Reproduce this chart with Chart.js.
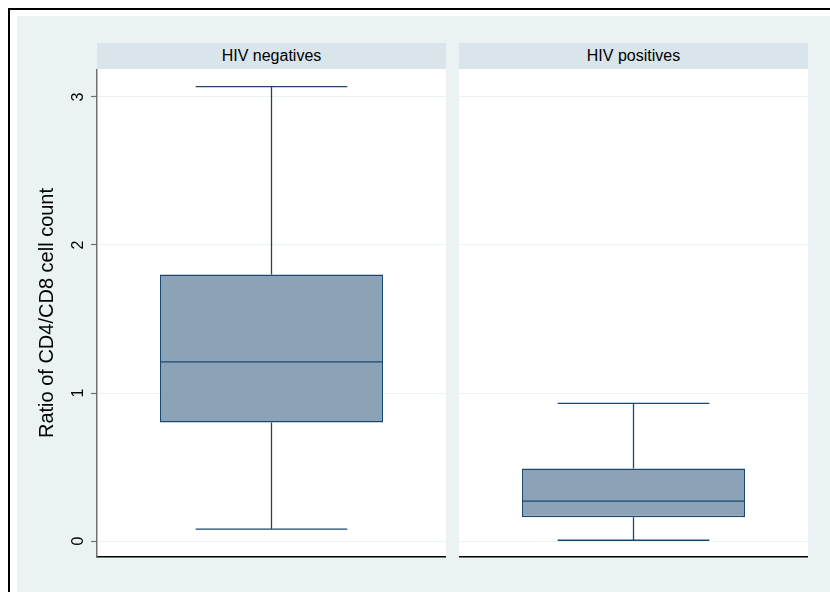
<!DOCTYPE html>
<html>
<head>
<meta charset="utf-8">
<script src="https://cdn.jsdelivr.net/npm/chart.js@4.4.1/dist/chart.umd.min.js"></script>
<style>
  html, body { margin: 0; width: 830px; height: 592px; overflow: hidden; background: #fff;
         font-family: "Liberation Sans", Arial, sans-serif; }
  #frame { position: absolute; left: 8px; top: 8px; width: 822px; height: 584px;
           box-sizing: border-box; border-left: 2px solid #000; border-top: 2px solid #000; }
  #bg { position: absolute; left: 17px; top: 16px; width: 813px; height: 576px; background: #eaf2f3; }
  .strip { position: absolute; top: 43px; height: 26px; line-height: 26px; width: 349px;
           background: #d9e5eb; text-align: center; font-size: 16px; color: #000; }
  canvas { position: absolute; top: 69px; }
</style>
</head>
<body>
<div id="frame"></div>
<div id="bg"></div>
<div class="strip" id="strip0" style="left:97px"></div>
<div class="strip" id="strip1" style="left:459px"></div>
<canvas id="panel0" width="429" height="490" style="left:17px"></canvas>
<canvas id="panel1" width="349" height="490" style="left:459px"></canvas>
<script>
/* =========================
   DATA
========================= */

const groups = ["HIV negatives", "HIV positives"];
const lowerWhisker = [0.08, 0.005];
const q1 = [0.80, 0.16];
const median = [1.21, 0.27];
const q3 = [1.80, 0.49];
const upperWhisker = [3.07, 0.93];

const yTicks = [0, 1, 2, 3];
const yTitle = "Ratio of CD4/CD8 cell count";

/* =========================
   STYLE
========================= */

const NAVY = "#1a476f";
const BOX_FILL = "#8ca3b7";
const GRID = "#eaf2f3";
const AXIS_GRAY = "#707070";

Chart.defaults.font.family = "'Liberation Sans', Arial, sans-serif";
Chart.defaults.color = "#000";

// white plot region behind each panel
const panelBg = {
  id: "panelBg",
  beforeDraw(chart) {
    const { ctx, chartArea: a } = chart;
    ctx.save();
    ctx.fillStyle = "#fff";
    ctx.fillRect(a.left, a.top, a.right - a.left, a.bottom - a.top);
    ctx.restore();
  }
};

// whiskers, caps and median drawn from the data through the y scale
const boxParts = {
  id: "boxParts",
  beforeDatasetsDraw(chart) {
    const i = chart.options.groupIndex;
    const bar = chart.getDatasetMeta(0).data[0];
    const y = chart.scales.y;
    const ctx = chart.ctx;
    const capHalf = bar.width * 0.34;
    ctx.save();
    ctx.strokeStyle = NAVY;
    ctx.lineWidth = 1.3;
    ctx.beginPath();
    ctx.moveTo(bar.x, y.getPixelForValue(q3[i]));
    ctx.lineTo(bar.x, y.getPixelForValue(upperWhisker[i]));
    ctx.moveTo(bar.x, y.getPixelForValue(q1[i]));
    ctx.lineTo(bar.x, y.getPixelForValue(lowerWhisker[i]));
    ctx.moveTo(bar.x - capHalf, y.getPixelForValue(upperWhisker[i]));
    ctx.lineTo(bar.x + capHalf, y.getPixelForValue(upperWhisker[i]));
    ctx.moveTo(bar.x - capHalf, y.getPixelForValue(lowerWhisker[i]));
    ctx.lineTo(bar.x + capHalf, y.getPixelForValue(lowerWhisker[i]));
    ctx.stroke();
    ctx.restore();
  },
  afterDatasetsDraw(chart) {
    const i = chart.options.groupIndex;
    const bar = chart.getDatasetMeta(0).data[0];
    const ym = chart.scales.y.getPixelForValue(median[i]);
    const ctx = chart.ctx;
    ctx.save();
    ctx.strokeStyle = NAVY;
    ctx.lineWidth = 1.3;
    ctx.beginPath();
    ctx.moveTo(bar.x - bar.width / 2, ym);
    ctx.lineTo(bar.x + bar.width / 2, ym);
    ctx.stroke();
    ctx.restore();
  }
};

function makePanel(i) {
  const first = i === 0;
  document.getElementById("strip" + i).textContent = groups[i];

  return new Chart(document.getElementById("panel" + i), {
    type: "bar",
    data: {
      labels: [groups[i]],
      datasets: [{
        data: [[q1[i], q3[i]]],
        backgroundColor: BOX_FILL,
        borderColor: NAVY,
        borderWidth: 1.5,
        borderSkipped: false,
        barPercentage: 0.639,
        categoryPercentage: 1
      }]
    },
    options: {
      groupIndex: i,
      responsive: false,
      animation: false,
      events: [],
      layout: { padding: { top: 0, right: 0, bottom: 2, left: 0 } },
      plugins: {
        legend: { display: false },
        tooltip: { enabled: false }
      },
      scales: {
        x: {
          grid: { display: false, drawTicks: false },
          ticks: { display: false },
          border: { display: true, color: "#000", width: 1.5 },
          afterFit(s) { s.height = 0; s.paddingLeft = 0; s.paddingRight = 0; }
        },
        y: {
          min: -0.108,
          max: 3.189,
          afterBuildTicks(s) { s.ticks = yTicks.map(v => ({ value: v })); },
          grid: {
            color: GRID,
            lineWidth: 1,
            drawTicks: first,
            tickLength: 6,
            tickColor: AXIS_GRAY,
            tickWidth: 1.2
          },
          border: { display: first, color: AXIS_GRAY, width: 1.5 },
          ticks: {
            display: first,
            minRotation: 90,
            maxRotation: 90,
            crossAlign: "center",
            padding: 8,
            font: { size: 16 },
            color: "#000"
          },
          title: {
            display: first,
            text: yTitle,
            font: { size: 20 },
            color: "#000",
            padding: { top: 18, bottom: 0 }
          },
          afterFit(s) { s.width = first ? 80 : 0; s.paddingTop = 0; s.paddingBottom = 0; }
        }
      }
    },
    plugins: [panelBg, boxParts]
  });
}

groups.forEach((g, i) => makePanel(i));
</script>
</body>
</html>
